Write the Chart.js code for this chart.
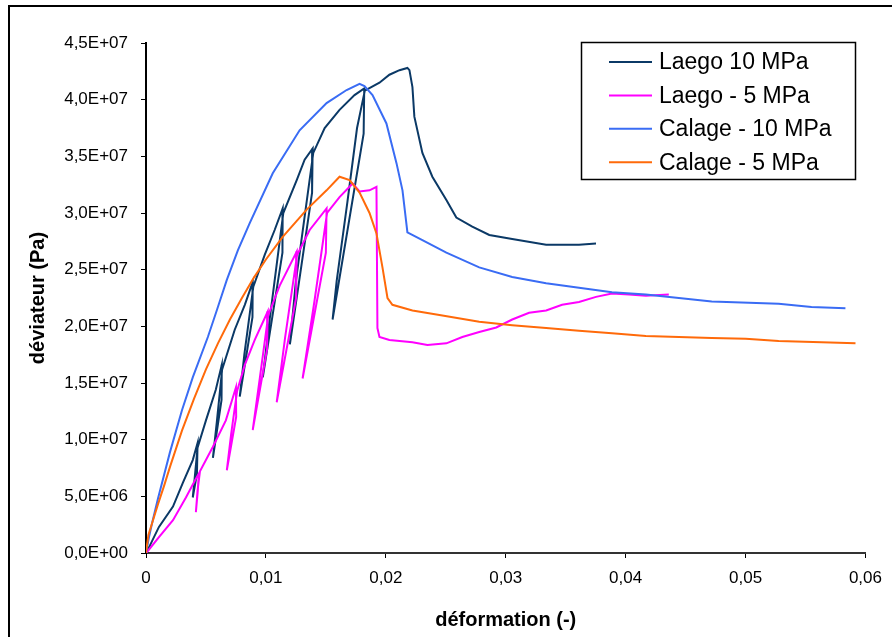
<!DOCTYPE html>
<html>
<head>
<meta charset="utf-8">
<script src="https://cdn.jsdelivr.net/npm/chart.js@4/dist/chart.umd.min.js"></script>
<style>
  html, body { margin: 0; padding: 0; background: #fff; }
  canvas { display: block; }
</style>
</head>
<body>
<canvas id="chart" width="892" height="637"></canvas>
<script>
// Strain (-) and deviator stress (MPa).
const laego10Strain = [0, 0.00025, 0.00108, 0.00225, 0.00308, 0.0039, 0.0043, 0.00425, 0.0039, 0.00405, 0.0043,
  0.005, 0.00582, 0.00632, 0.0063, 0.00558, 0.0059, 0.00635, 0.0074, 0.00824, 0.0089, 0.00888, 0.00782, 0.0082,
  0.00895, 0.0099, 0.01073, 0.0114, 0.01138, 0.00974, 0.0103, 0.01145, 0.01257, 0.01323, 0.0139, 0.01385, 0.012,
  0.0125, 0.01395, 0.0149, 0.01614, 0.01739, 0.0182, 0.01815, 0.01556, 0.0159, 0.0168, 0.0176, 0.01825, 0.01947,
  0.0203, 0.02114, 0.0218, 0.02197, 0.02222, 0.02238, 0.02305, 0.02388, 0.02505, 0.02588, 0.02721, 0.02863,
  0.03054, 0.03337, 0.03611, 0.03753];
const laego10Stress = [0, 0.5, 2.3, 4.1, 6.2, 8.2, 9.7, 7.0, 4.9, 6.5, 9.3,
  11.7, 14.4, 16.6, 13.5, 8.4, 11.5, 16.2, 19.7, 21.9, 23.9, 20.8, 13.8, 17.5,
  23.5, 26.3, 28.5, 30.4, 26.5, 15.5, 20.5, 30.0, 32.9, 34.7, 35.7, 31.8, 18.4,
  24.0, 35.3, 37.5, 39.1, 40.4, 41.0, 37.0, 20.6, 24.0, 31.0, 37.5, 40.8, 41.5,
  42.2, 42.6, 42.8, 42.6, 41.1, 38.5, 35.3, 33.2, 31.15, 29.6, 28.8, 28.06,
  27.7, 27.2, 27.2, 27.3];

const laego5Strain = [0, 0.00017, 0.00108, 0.00225, 0.00333, 0.00408, 0.0044, 0.00432, 0.00416, 0.0043, 0.0045,
  0.00557, 0.00666, 0.0075, 0.00752, 0.00674, 0.0071, 0.0076, 0.00824, 0.00907, 0.01015, 0.0101, 0.0089, 0.0095,
  0.0102, 0.01115, 0.01257, 0.01252, 0.0109, 0.0116, 0.0126, 0.01365, 0.01506, 0.015, 0.01306, 0.01406, 0.0151,
  0.01614, 0.01723, 0.01781, 0.01864, 0.01922, 0.0193, 0.01947, 0.0203, 0.02222, 0.02347, 0.02505, 0.02638,
  0.02779, 0.02921, 0.03054, 0.03195, 0.03337, 0.0347, 0.03611, 0.03753, 0.03886, 0.04028, 0.04169, 0.0436];
const laego5Stress = [0, 0.2, 1.4, 2.9, 4.9, 6.4, 7.0, 5.5, 3.6, 5.5, 7.2,
  9.35, 11.7, 14.6, 12.0, 7.3, 10.5, 14.3, 16.6, 18.8, 21.3, 18.0, 10.85, 15.5,
  21.0, 23.6, 26.6, 22.5, 13.3, 19.0, 26.3, 28.5, 30.4, 26.5, 15.4, 22.3, 30.0,
  31.4, 32.6, 31.9, 32.0, 32.3, 19.85, 19.06, 18.8, 18.6, 18.35, 18.5, 19.06,
  19.5, 19.9, 20.6, 21.2, 21.4, 21.9, 22.15, 22.6, 22.9, 22.8, 22.7, 22.8];

const calage10Strain = [0, 0.00025, 0.0005, 0.001, 0.002, 0.003, 0.0039, 0.00516, 0.0059, 0.00674, 0.00766,
  0.00865, 0.01057, 0.01281, 0.01506, 0.01673, 0.01781, 0.01822, 0.01889, 0.02005, 0.02089, 0.02139, 0.0218,
  0.02305, 0.02505, 0.02779, 0.03054, 0.03337, 0.03611, 0.03886, 0.04169, 0.04444, 0.04718, 0.05276, 0.0555, 0.05833];
const calage10Stress = [0, 1.4, 2.6, 4.8, 8.9, 12.6, 15.5, 19.06, 21.4, 24.1, 26.7,
  29.1, 33.5, 37.3, 39.7, 40.85, 41.4, 41.2, 40.4, 37.9, 34.4, 32.0, 28.3,
  27.6, 26.5, 25.2, 24.35, 23.8, 23.4, 23.0, 22.8, 22.5, 22.2, 22.0, 21.7, 21.6];

const calage5Strain = [0, 0.0002, 0.0005, 0.001, 0.0015, 0.002, 0.003, 0.004, 0.005, 0.006, 0.007,
  0.008, 0.009, 0.01, 0.0114, 0.0134, 0.01506, 0.01614, 0.01698, 0.01781, 0.01864, 0.01922, 0.01972, 0.02014,
  0.02055, 0.02222, 0.02447, 0.02779, 0.03054, 0.03337, 0.03611, 0.03886, 0.04169, 0.04444, 0.04718, 0.05001,
  0.05276, 0.05634, 0.05917];
const calage5Stress = [0, 1.6, 2.6, 4.3, 5.9, 7.6, 10.8, 13.6, 16.2, 18.5, 20.6,
  22.5, 24.3, 25.9, 27.9, 30.3, 32.0, 33.2, 32.9, 31.8, 30.0, 28.2, 25.2, 22.5,
  21.9, 21.4, 21.0, 20.4, 20.1, 19.85, 19.6, 19.4, 19.15, 19.06, 18.97, 18.9,
  18.7, 18.6, 18.5];

const seriesLabels = ['Laego 10 MPa', 'Laego - 5 MPa', 'Calage - 10 MPa', 'Calage - 5 MPa'];
const seriesColors = ['#0B3966', '#FF00FF', '#3A6CF4', '#FF6A0A'];
const xTicks = [0, 0.01, 0.02, 0.03, 0.04, 0.05, 0.06];

const MPA = 1e6;
const toPoints = (xs, ys) => xs.map((x, i) => ({ x, y: ys[i] * MPA }));

const seriesData = [
  toPoints(laego10Strain, laego10Stress),
  toPoints(laego5Strain, laego5Stress),
  toPoints(calage10Strain, calage10Stress),
  toPoints(calage5Strain, calage5Stress),
];

const FONT = '"Liberation Sans", Arial, sans-serif';

// Excel-style scientific label: 4,5E+07
function sciLabel(v) {
  if (v === 0) return '0,0E+00';
  const e = Math.floor(Math.log10(v) + 1e-9);
  const m = v / Math.pow(10, e);
  return m.toFixed(1).replace('.', ',') + 'E+' + String(e).padStart(2, '0');
}

// Frame around the whole picture (only left and top edges are visible)
const frame = {
  id: 'frame',
  beforeDraw(chart) {
    const ctx = chart.ctx;
    ctx.save();
    ctx.fillStyle = '#fff';
    ctx.fillRect(0, 0, chart.width, chart.height);
    ctx.strokeStyle = '#000';
    ctx.lineWidth = 2;
    ctx.beginPath();
    ctx.moveTo(9, chart.height + 2);
    ctx.lineTo(9, 6);
    ctx.lineTo(chart.width + 2, 6);
    ctx.stroke();
    ctx.restore();
  }
};

// Boxed legend in the upper right of the plot
const legendBox = {
  id: 'legendBox',
  afterDraw(chart) {
    const ctx = chart.ctx;
    ctx.save();
    ctx.fillStyle = '#fff';
    ctx.fillRect(581, 42, 275, 138);
    ctx.strokeStyle = '#000';
    ctx.lineWidth = 1.5;
    ctx.strokeRect(581.5, 42.5, 274, 137);
    ctx.font = '23px ' + FONT;
    ctx.textBaseline = 'middle';
    chart.data.datasets.forEach((ds, i) => {
      const y = 62 + i * 33.4;
      ctx.strokeStyle = ds.borderColor;
      ctx.lineWidth = 2;
      ctx.beginPath();
      ctx.moveTo(609, y);
      ctx.lineTo(652, y);
      ctx.stroke();
      ctx.fillStyle = '#000';
      ctx.fillText(ds.label, 659, y + 1);
    });
    ctx.restore();
  }
};

new Chart(document.getElementById('chart'), {
  type: 'scatter',
  data: {
    datasets: seriesData.map((pts, i) => ({
      label: seriesLabels[i],
      data: pts,
      showLine: true,
      borderColor: seriesColors[i],
      backgroundColor: seriesColors[i],
      borderWidth: 2,
      pointRadius: 0,
      tension: 0,
      order: seriesData.length - i,
    })),
  },
  options: {
    responsive: false,
    animation: false,
    layout: { padding: { left: 19, top: 43, right: 25, bottom: 0 } },
    plugins: {
      legend: { display: false },
      tooltip: { enabled: false },
    },
    scales: {
      x: {
        type: 'linear',
        min: 0,
        max: 0.06,
        afterBuildTicks: (scale) => { scale.ticks = xTicks.map(v => ({ value: v })); },
        afterFit: (scale) => { scale.height = 84; },
        ticks: {
          callback: v => (v === 0 ? '0' : v.toFixed(2).replace('.', ',')),
          font: { family: FONT, size: 17 },
          color: '#000',
          padding: 10,
          maxRotation: 0,
        },
        grid: { drawOnChartArea: false, drawTicks: true, tickLength: 5, color: '#000', lineWidth: 1 },
        border: { display: true, color: '#333', width: 2 },
        title: {
          display: true,
          text: 'déformation (-)',
          font: { family: FONT, size: 20, weight: 'bold' },
          color: '#000',
          padding: { top: 0, bottom: 5 },
        },
      },
      y: {
        type: 'linear',
        min: 0,
        max: 4.5e7,
        ticks: {
          stepSize: 5e6,
          callback: v => sciLabel(v),
          font: { family: FONT, size: 17 },
          color: '#000',
          padding: 13,
        },
        afterFit: (scale) => { scale.width = 127; },
        grid: { drawOnChartArea: false, drawTicks: true, tickLength: 5, color: '#000', lineWidth: 1 },
        border: { display: true, color: '#000', width: 2 },
        title: {
          display: true,
          text: 'déviateur (Pa)',
          font: { family: FONT, size: 20, weight: 'bold' },
          color: '#000',
          padding: { top: 7, bottom: 0 },
        },
      },
    },
  },
  plugins: [frame, legendBox],
});
</script>
</body>
</html>
